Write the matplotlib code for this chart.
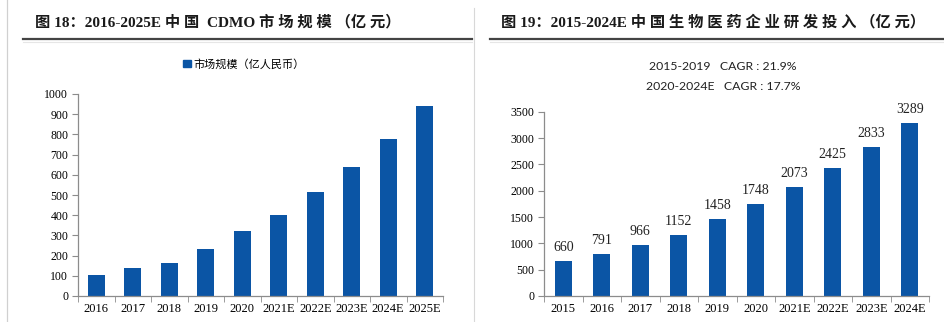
import matplotlib
matplotlib.use("Agg")
import matplotlib.pyplot as plt
from matplotlib.lines import Line2D
from matplotlib.patches import Patch

# data
cdmo_years = ["2016", "2017", "2018", "2019", "2020", "2021E", "2022E", "2023E", "2024E", "2025E"]
cdmo_size = [104, 137, 162, 233, 320, 402, 515, 637, 776, 941]

rd_years = ["2015", "2016", "2017", "2018", "2019", "2020", "2021E", "2022E", "2023E", "2024E"]
rd_spend = [660, 791, 966, 1152, 1458, 1748, 2073, 2425, 2833, 3289]

title_left = "图 18：2016-2025E 中 国  CDMO 市 场 规 模 （亿 元）"
title_right = "图 19：2015-2024E 中 国 生 物 医 药 企 业 研 发 投 入 （亿 元）"
legend_label = "市场规模（亿人民币）"
cagr_lines = ["2015-2019   CAGR : 21.9%", "2020-2024E   CAGR : 17.7%"]

W, H = 944, 322
BAR = "#0B55A5"
AXC = "#8c8c8c"
SERIF = ["Liberation Serif", "Noto Sans CJK SC"]
CJK = ["Noto Sans CJK SC", "DejaVu Sans"]

fig = plt.figure(figsize=(W / 100, H / 100), dpi=100)
fig.patch.set_facecolor("white")


def px_axes(x0, x1, y0, y1):
    # pixel box -> figure fraction (y measured from top)
    return fig.add_axes([x0 / W, 1 - y1 / H, (x1 - x0) / W, (y1 - y0) / H])


def style(ax, labels, ymax, step):
    n = len(labels)
    ax.set_xlim(-0.5, n - 0.5)
    ax.set_ylim(0, ymax)
    ax.set_yticks(range(0, ymax + 1, step))
    ax.set_xticks(range(n))
    ax.set_xticklabels(labels, family=SERIF, fontsize=9)
    ax.set_xticks([i - 0.5 for i in range(n + 1)], minor=True)
    ax.tick_params(axis="x", which="major", length=0, pad=5)
    ax.tick_params(axis="x", which="minor", length=4, color=AXC, direction="out")
    ax.tick_params(axis="y", length=4, color=AXC, direction="out", pad=3)
    for lab in ax.get_yticklabels():
        lab.set_family(SERIF)
        lab.set_fontsize(8.5)
    for s in ("top", "right"):
        ax.spines[s].set_visible(False)
    for s in ("left", "bottom"):
        ax.spines[s].set_color(AXC)
        ax.spines[s].set_linewidth(0.9)


# left chart
ax1 = px_axes(78, 443, 94, 296)
ax1.bar(range(len(cdmo_years)), cdmo_size, width=0.46, color=BAR)
style(ax1, cdmo_years, 1000, 100)
fig.legend(handles=[Patch(color=BAR, label=legend_label)], loc="center",
           bbox_to_anchor=(244 / W, 1 - 64 / H), frameon=False,
           prop={"family": CJK, "size": 8}, handlelength=0.7, handleheight=0.7,
           handletextpad=0.2)

# right chart
ax2 = px_axes(544, 929, 111.7, 296)
bars = ax2.bar(range(len(rd_years)), rd_spend, width=0.44, color=BAR)
style(ax2, rd_years, 3500, 500)
ax2.bar_label(bars, labels=[str(v) for v in rd_spend], padding=5,
              family=SERIF, fontsize=10, color="#222222")
for i, line in enumerate(cagr_lines):
    fig.text(723 / W, 1 - (66 + 20.5 * i) / H, line, ha="center", va="center",
             family=["Lato", "DejaVu Sans"], fontsize=8.8, color="#222222")

# titles and frame lines
fig.text(35 / W, 1 - 22 / H, title_left, ha="left", va="center", family=SERIF,
         weight="bold", fontsize=11, color="#1a1a1a")
fig.text(501 / W, 1 - 22 / H, title_right, ha="left", va="center", family=SERIF,
         weight="bold", fontsize=11, color="#1a1a1a")
for x0, x1 in [(23, 472), (490, 944)]:
    fig.add_artist(Line2D([x0 / W, x1 / W], [1 - 39 / H] * 2, color="#444444", lw=1.6))
    fig.add_artist(Line2D([x0 / W, x1 / W], [1 - 41.5 / H] * 2, color="#e6e6e6", lw=0.8))
fig.add_artist(Line2D([7 / W] * 2, [0, 1], color="#d0d0d0", lw=0.9))
fig.add_artist(Line2D([474 / W] * 2, [0, 1 - 8 / H], color="#d8d8d8", lw=0.8))

fig.savefig("out.png", dpi=100)
